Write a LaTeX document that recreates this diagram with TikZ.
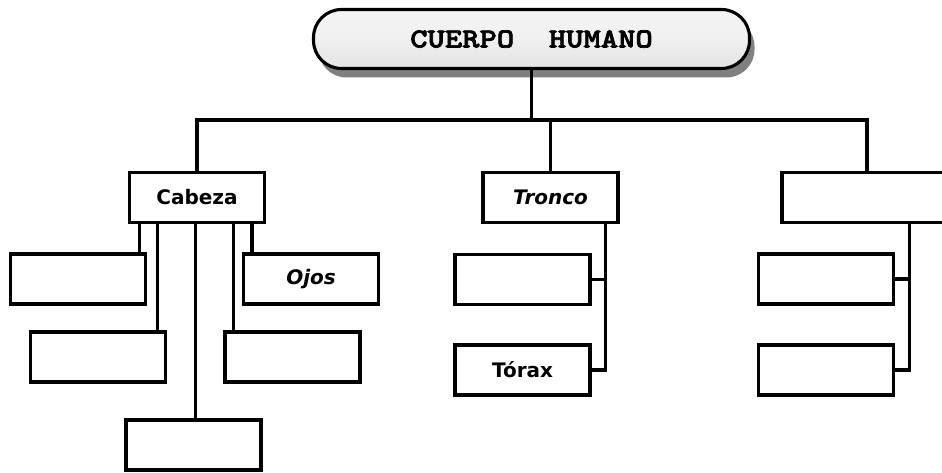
\documentclass[tikz,border=0pt]{standalone}
\usepackage{fontspec}
\newfontfamily\comic{DejaVu Sans}
\newfontfamily\titulo{lmmonolt10-bold}[Extension=.otf, FakeBold=2.5, FakeStretch=1.2]
\usetikzlibrary{positioning, shadows, calc}

\tikzset{
  caja/.style={draw, line width=3.1pt, minimum width=135pt, minimum height=50pt,
    inner sep=0pt, font=\comic\bfseries\fontsize{20}{23}\selectfont},
  enlace/.style={line width=3.1pt},
}

\begin{document}
\begin{tikzpicture}[x=1pt, y=-1pt]
\useasboundingbox (0,0) rectangle (942,473);
\clip (0,0) rectangle (942,473);

% Titulo
\node[draw, line width=3.1pt, rounded corners=28pt, minimum width=436pt, minimum height=59pt,
  top color=gray!8, bottom color=gray!22, middle color=gray!12,
  drop shadow={shadow xshift=5pt, shadow yshift=-9pt, fill=black!50, opacity=1},
  font=\titulo\fontsize{27.5}{30}\selectfont] (cuerpo) at (531.5,39) {CUERPO\ \ HUMANO};

% Cabeza y sus partes
\node[caja] (cab) at (197,197.5) {Cabeza};
\node[caja] (b1) at (78,279) {};
\node[caja] (ojos) at (311,279) {\itshape Ojos};
\node[caja] (b2) at (98,357) {};
\node[caja] (b3) at (292.5,357) {};
\node[caja] (b4) at (193.5,445) {};

% Tronco
\node[caja] (tronco) at (550.5,197.5) {\itshape Tronco};
\node[caja] (t1) at (522.5,279.5) {};
\node[caja] (torax) at (522.5,370) {Tórax};

% Extremidades
\node[caja, minimum width=170pt] (ext) at (867,197.5) {};
\node[caja] (e1) at (826,279) {};
\node[caja] (e2) at (826,370) {};

% Conexiones
\coordinate (bus) at (531.5,120);
\draw[enlace] (cuerpo.south) -- (bus);
\draw[enlace] (cab.north) |- (bus) -| (ext.north);
\draw[enlace] (tronco.north) -- (tronco.north |- bus);

\foreach \b/\a/\s in {b1/north east/-8, b2/north east/-10, b4/north/2, b3/north west/10, ojos/north west/10}
  \draw[enlace] ([xshift=\s pt]\b.\a) -- ([xshift=\s pt]\b.\a |- cab.south);

\coordinate (tsp) at ([xshift=-14pt]tronco.south east);
\draw[enlace] (tsp) |- (torax.east);
\draw[enlace] (t1.east) -- (t1.east -| tsp);

\coordinate (esp) at ([xshift=129pt]ext.south west);
\draw[enlace] (esp) |- (e2.east);
\draw[enlace] (e1.east) -- (e1.east -| esp);
\end{tikzpicture}
\end{document}
